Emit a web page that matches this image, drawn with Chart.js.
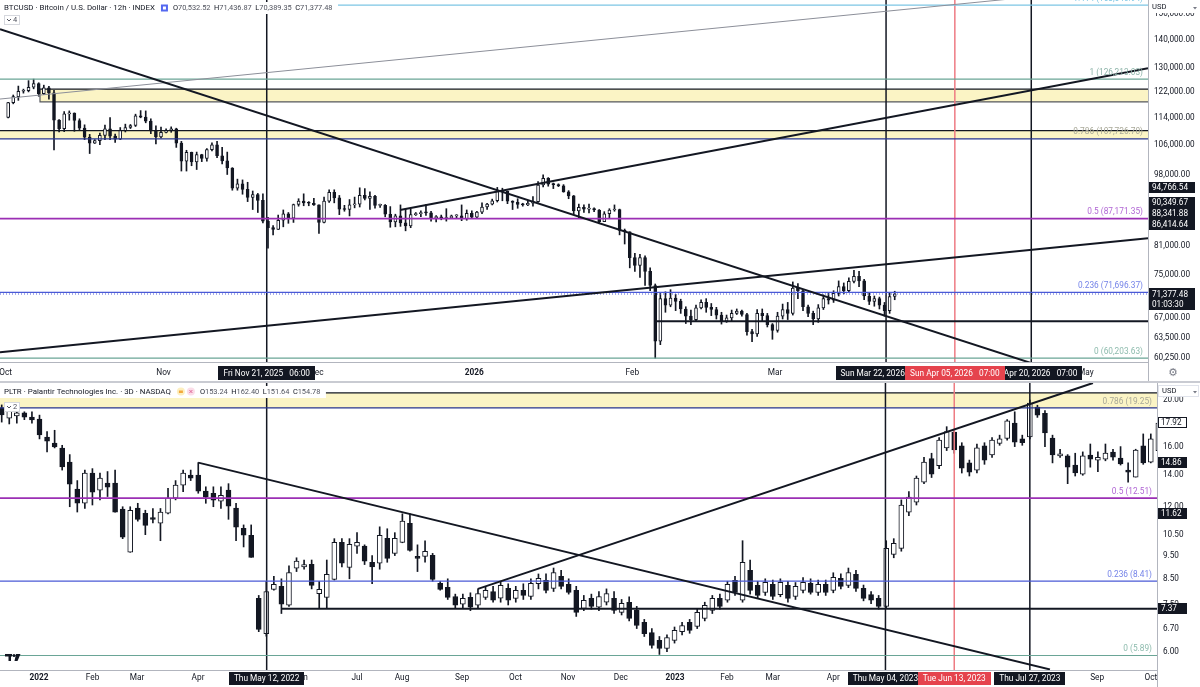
<!DOCTYPE html>
<html>
<head>
<meta charset="utf-8">
<title>BTCUSD 12h / PLTR 3D</title>
<script src="https://cdn.jsdelivr.net/npm/chart.js@4.4.1/dist/chart.umd.min.js"></script>
<style>
  html, body { margin: 0; padding: 0; background: #fff; }
  #page { position: relative; width: 1200px; height: 687px; overflow: hidden; }
  #btc { position: absolute; left: 0; top: 0; }
  #pltr { position: absolute; left: 0; top: 383px; }
  #divider { position: absolute; left: 0; top: 381px; width: 1200px; height: 2px; background: #c9cbd2; }
</style>
</head>
<body>
<div id="page">
  <canvas id="btc" width="1200" height="383"></canvas>
  <div id="divider"></div>
  <canvas id="pltr" width="1200" height="304"></canvas>
</div>
<script>
// ---------- BTCUSD, one candle per day, prices in thousands of USD. day 0 = Oct 1, 2025 ----------
const btcStartOpen = 114.0; // Sep 30 close, opens follow the previous close
const btcClose = [
  118.6,120.5,122.2,122.4,123.5,124.7,121.4,123.3,121.7,113.2, 110.7,115.1,115.3,113.1,110.8,108.2,106.5,107.2,108.7,110.6,
  108.5,107.6,110.1,111.0,111.6,114.5,114.1,112.9,110.0,108.3, 109.6,
  110.1,110.6,106.5,101.5,103.9,101.3,103.3,102.3,104.7,106.0, 103.0,101.6,99.7,94.5,95.6,94.2,92.2,92.9,91.5,86.6,
  85.1,84.7,86.8,88.3,87.3,90.5,91.3,90.9,90.8,90.4,
  86.3,91.3,93.5,92.1,89.4,89.3,90.4,90.6,92.7,92.0, 92.5,90.3,90.3,88.2,86.4,87.8,86.2,85.5,88.1,88.3,
  88.6,88.5,87.4,87.6,87.2,87.3,87.8,87.8,87.1,88.4, 87.5,
  88.7,89.9,90.6,91.4,93.8,93.7,91.3,91.0,90.5,90.4, 90.8,91.2,95.3,97.0,95.5,95.4,95.1,93.6,92.6,89.0,
  89.8,89.4,89.5,89.2,86.5,88.3,89.2,89.3,84.5,84.2, 78.6,
  77.0,78.6,75.8,73.0,63.0,70.5,69.3,70.6,70.0,68.6, 67.3,66.7,68.8,69.8,68.9,68.5,67.5,66.4,67.0,67.8,
  68.2,67.6,64.6,64.2,67.8,67.4,65.8,64.8,
  67.3,68.5,67.8,72.5,72.0,69.0,67.8,66.8,68.8,70.5, 70.2,71.5,72.8,72.0,73.8,74.8,73.9,71.0,70.0,70.5,
  69.3,68.3,70.9,71.4
];
const btcHigh = [
  118.7,121.0,123.9,122.9,125.7,126.2,125.0,124.2,123.8,122.5, 113.4,115.8,116.0,115.4,113.6,111.8,109.0,107.5,109.4,111.7,
  114.0,109.1,111.0,112.0,111.9,115.0,116.1,116.0,113.6,111.5, 111.1,
  110.6,111.2,110.8,107.0,104.5,104.0,104.0,103.4,105.0,106.6, 107.0,105.3,104.0,99.8,96.8,96.6,96.0,93.8,93.2,93.1,
  87.5,85.6,88.0,89.2,88.6,90.6,91.9,93.1,91.2,92.0,
  90.4,92.3,94.1,94.1,92.7,90.3,91.7,92.3,94.6,94.4, 93.6,92.7,90.6,90.5,90.0,88.2,90.4,89.5,89.4,88.6,
  89.0,90.5,88.9,87.9,88.0,89.5,88.0,88.1,90.4,89.2, 89.0,
  88.9,90.9,90.8,91.8,94.7,94.5,93.8,91.4,91.9,90.8, 91.3,92.4,96.2,97.9,97.2,95.8,95.6,95.4,93.9,92.7,
  90.6,90.4,90.6,89.7,89.3,88.8,89.5,90.4,89.4,84.8, 84.2,
  79.5,79.3,79.0,76.5,73.3,71.5,71.8,72.2,71.3,70.4, 69.0,68.4,69.3,70.3,70.5,69.6,68.9,68.0,67.5,68.4,
  68.6,68.4,67.8,65.0,68.5,68.6,67.8,66.0,
  68.0,69.5,69.8,73.7,73.4,72.2,69.3,68.2,69.4,71.2, 71.5,72.0,73.9,73.5,74.5,76.0,75.8,74.2,71.5,71.0,
  70.8,69.8,71.5,71.9
];
const btcLow = [
  113.9,118.2,119.3,121.6,122.0,123.0,120.6,121.1,119.7,104.6, 109.7,109.8,113.2,109.9,110.2,107.5,103.6,106.4,106.1,107.5,
  107.5,106.7,107.5,109.7,110.7,111.3,113.9,112.4,109.2,106.3, 108.0,
  109.4,109.6,105.3,98.9,98.9,100.3,99.3,101.4,101.5,104.3, 102.5,100.8,98.0,94.0,94.0,93.0,91.2,89.3,88.6,86.2,
  80.6,83.5,84.7,85.3,86.1,86.3,90.1,90.2,90.2,90.3,
  83.8,86.2,91.0,90.9,88.1,88.9,87.8,89.7,89.9,91.6, 89.3,89.6,89.8,87.6,85.2,85.3,85.4,84.4,85.1,87.9,
  87.6,87.9,86.6,86.4,86.9,86.6,87.2,87.4,86.7,86.8, 87.2,
  87.2,88.3,89.3,90.4,91.1,91.4,90.7,89.3,89.6,90.1, 90.2,90.1,91.0,94.8,95.0,94.4,94.9,93.5,91.9,88.2,
  87.4,88.6,88.5,88.8,86.0,86.5,87.4,88.9,83.5,81.5, 76.5,
  75.8,74.6,73.0,72.0,60.2,62.4,68.0,69.0,68.3,67.8, 66.0,65.8,66.5,68.6,68.0,67.4,66.8,65.9,66.2,66.5,
  67.6,67.3,64.0,62.9,63.8,66.5,65.4,63.3,
  64.5,66.8,66.7,67.5,70.5,68.3,67.2,65.8,66.2,68.5, 69.5,69.8,71.0,71.4,71.8,73.5,72.8,70.3,69.4,69.1,
  68.6,67.3,67.8,70.3
];
const btcMonthDays = [0, 31, 61, 92, 123, 151, 182, 212];
const btcMonthNames = ['Oct', 'Nov', 'Dec', '2026', 'Feb', 'Mar', 'Apr', 'May'];
const btcPriceTicks = [150, 140, 130, 122, 114, 106, 98, 90, 81, 75, 67, 63.5, 60.25];
const btcFibRatios = [0, 0.236, 0.5, 0.786, 1, 1.414];
const btcFibPrices = [60.20363, 71.69637, 87.17135, 107.7267, 126.21303, 153.54094];
const btcZones = [[6.75, 118.8, 122.9], [-1.1, 107.7267, 110.1]]; // [from day, low, high]
const btcTrend = [
  [-1.1, 144.03, 201.06, 59.49],
  [-1.1, 61.14, 224.21, 82.76],
  [77.41, 89.18, 224.21, 129.88],
  [127.85, 66.4, 224.21, 66.4]
];
const btcThinLine = [-1.1, 119.71, 214.75, 159.82];
const btcMarkDays = [51.25, 172.8, 186.3, 201.3];
const btcMarkText = ['Fri Nov 21, 2025   06:00', 'Sun Mar 22, 2026   19:00', 'Sun Apr 05, 2026   07:00', 'Mon Apr 20, 2026   07:00'];
const btcTags = [94.76654, 90.34967, 88.34188, 86.41464];
const btcLast = 71.37748;
const btcCountdown = '01:03:30';
const btcTitle = 'BTCUSD \u00b7 Bitcoin / U.S. Dollar \u00b7 12h \u00b7 INDEX';
const btcOHLC = [['O', '70,532.52'], ['H', '71,436.87'], ['L', '70,389.35'], ['C', '71,377.48']];

// ---------- PLTR, 3-day candles, x = bar number ----------
const pltrOpen = [
  19.25,18.33,18.52,18.80,18.42,18.26,16.75,16.27,15.89,14.86, 13.06,12.20,14.09,12.99,13.44,13.44,11.86,9.65,11.92,11.63,
  11.40,11.09,11.63,12.50,13.31,13.96,13.96,12.93,12.80,12.32, 12.99,11.92,10.82,10.47,7.74,6.54,8.08,8.20,7.49,8.94,
  9.00,9.11,7.92,7.78,8.48,10.12,8.98,9.94,9.94,9.20, 9.16,10.32,9.60,10.12,11.09,9.46,9.46,9.51,8.32,8.16,
  7.81,7.53,7.78,7.49,7.78,8.00,7.75,8.12,7.74,8.04, 7.81,8.30,8.44,8.12,8.60,8.28,8.04,7.38,7.74,7.42,
  7.60,7.74,7.24,7.60,7.31,6.90,6.57,6.33,6.09,6.33, 6.60,6.90,6.77,7.03,7.31,7.74,7.67,8.44,7.67,8.85,
  8.24,7.96,8.28,7.88,8.24,7.81,8.04,8.32,7.96,8.28, 8.04,8.52,8.24,8.68,8.12,7.88,7.74,7.45,9.55,9.83,
  11.69,12.27,13.50,15.10,14.60,15.90,17.15,16.05,14.80,14.30, 16.05,15.37,16.25,16.63,17.90,16.60,16.75,19.34,18.75,16.67,
  15.30,15.30,14.65,14.03,15.37,15.00,15.07,15.59,15.15,14.30, 13.83,16.05,14.86,15.70
];
const pltrHigh = [
  19.53,19.25,19.40,18.90,18.90,18.60,17.20,17.30,16.10,15.40, 13.60,14.30,14.40,14.10,14.20,14.30,12.00,12.00,12.20,11.80,
  11.90,11.90,13.10,13.60,14.30,14.30,14.82,13.20,13.20,13.20, 13.40,12.20,11.00,11.00,7.85,8.40,8.60,8.50,9.05,9.40,
  9.30,9.30,8.40,9.30,10.30,10.30,10.30,10.60,10.00,9.50, 10.90,10.80,10.60,11.60,11.60,10.00,10.20,9.60,8.40,8.50,
  7.90,7.90,7.95,8.10,8.20,8.20,8.40,8.30,8.20,8.30, 8.50,8.70,8.70,8.95,8.85,8.50,8.20,7.85,7.90,8.00,
  8.10,8.00,7.70,7.80,7.45,7.00,6.70,6.45,6.50,6.75, 6.90,7.00,7.35,7.60,7.85,7.90,8.40,8.60,10.20,9.30,
  8.40,8.50,8.45,8.50,8.40,8.35,8.55,8.50,8.45,8.45, 8.75,8.70,8.95,8.85,8.25,8.00,7.85,10.20,10.30,12.40,
  12.90,13.90,15.20,15.50,16.70,17.60,17.30,16.30,15.00,16.20, 16.30,16.70,16.90,18.20,18.90,16.90,20.00,19.50,19.00,16.90,
  15.80,15.40,15.50,15.60,16.20,15.60,16.20,15.80,16.00,14.80, 15.80,17.00,17.00,17.92
];
const pltrLow = [
  17.99,17.83,17.90,18.20,17.90,16.60,15.60,15.90,14.30,12.00, 11.70,11.90,12.10,12.40,12.60,11.69,10.30,9.65,11.20,10.50,
  11.10,10.20,11.60,12.40,12.90,13.60,12.80,12.20,12.00,11.90, 11.30,10.20,9.90,9.42,6.60,6.46,8.05,7.20,7.45,8.80,
  8.90,8.10,7.40,7.40,8.45,9.00,8.50,9.60,9.10,8.30, 8.90,9.20,9.50,10.10,9.70,8.80,9.20,8.40,8.05,7.70,
  7.40,7.40,7.30,7.40,7.70,7.60,7.60,7.50,7.60,7.70, 7.70,8.10,7.95,8.00,8.10,7.90,7.10,7.30,7.35,7.30,
  7.50,7.20,7.15,6.95,6.70,6.45,6.10,5.92,6.00,6.25, 6.50,6.55,6.70,6.95,7.20,7.35,7.60,7.85,7.60,7.90,
  7.75,7.85,7.70,7.80,7.60,7.70,7.95,7.90,7.85,7.85, 7.95,8.10,8.15,8.00,7.65,7.55,7.35,7.40,9.40,9.70,
  11.50,12.10,13.40,13.80,14.40,15.70,15.50,14.10,13.90,14.10, 14.70,15.20,16.10,16.50,16.00,16.10,16.60,18.40,16.00,14.80,
  15.20,13.40,13.90,13.95,14.50,14.20,14.95,15.00,14.65,13.50, 13.83,14.70,14.80,15.50
];
const pltrClose = [
  18.61,18.99,18.80,18.42,18.17,16.91,16.43,15.97,14.51,13.37, 12.20,14.09,12.87,13.76,13.18,11.69,10.37,11.80,11.30,10.98,
  11.30,11.69,12.50,13.31,14.09,13.76,12.93,12.56,12.38,12.68, 12.03,10.88,10.47,9.42,6.67,8.00,8.28,7.53,8.76,9.25,
  9.10,8.24,8.08,8.68,10.12,9.16,10.03,10.12,9.25,9.00, 10.47,9.37,10.32,11.20,9.74,9.37,9.69,8.48,8.08,7.78,
  7.49,7.74,7.42,7.92,8.04,7.67,8.24,7.67,8.04,7.85, 8.32,8.52,8.04,8.76,8.20,7.96,7.24,7.67,7.45,7.81,
  7.92,7.31,7.56,7.03,6.80,6.54,6.18,6.09,6.42,6.64, 6.80,6.64,7.24,7.49,7.74,7.45,8.28,7.96,9.20,8.04,
  7.85,8.36,7.81,8.36,7.74,8.20,8.36,7.96,8.28,7.96, 8.56,8.20,8.76,8.12,7.74,7.67,7.45,9.83,10.07,12.09,
  12.56,13.76,14.86,14.03,16.50,17.20,15.75,14.43,14.16,15.90, 15.00,16.50,16.60,18.10,16.35,16.30,19.70,18.60,17.08,15.37,
  15.45,14.50,14.10,15.30,15.07,15.20,15.52,15.22,14.72,14.16, 15.74,14.79,16.60,17.90
];
const pltrMonthBars = [4.93, 12.02, 17.9, 25.97, 32.8, 39.6, 47.0, 52.95, 60.9, 67.96, 74.9, 81.9,
  89.06, 95.94, 102.0, 110.0, 115.8, 123.1, 130.1, 136.7, 144.9, 152.0];
const pltrMonthNames = ['2022', 'Feb', 'Mar', 'Apr', 'May', 'Jun', 'Jul', 'Aug', 'Sep', 'Oct', 'Nov', 'Dec',
  '2023', 'Feb', 'Mar', 'Apr', 'May', 'Jun', 'Jul', 'Aug', 'Sep', 'Oct'];
const pltrPriceTicks = [20, 16, 14, 12, 10.5, 9.5, 8.5, 7.5, 6.7, 6];
const pltrFibRatios = [0, 0.236, 0.5, 0.786];
const pltrFibPrices = [5.89, 8.41, 12.51, 19.25];
const pltrZone = [-0.225, 19.25, 20.68];
const pltrTrend = [
  [26.0, 14.82, 138.66, 5.51],
  [63.0, 8.10, 144.35, 21.69],
  [37.0, 7.37, 152.82, 7.37]
];
const pltrMarkBars = [35.05, 116.9, 126.0, 136.0];
const pltrMarkText = ['Thu May 12, 2022', 'Thu May 04, 2023', 'Tue Jun 13, 2023', 'Thu Jul 27, 2023'];
const pltrTags = [17.92, 14.86, 11.62, 7.37];
const pltrTitle = 'PLTR \u00b7 Palantir Technologies Inc. \u00b7 3D \u00b7 NASDAQ';
const pltrOHLC = [['O', '153.24'], ['H', '162.40'], ['L', '151.64'], ['C', '154.78']];

// ---------- view ranges ----------
const BTC_X = [-1.1, 224.21];
const BTC_Y = [59.598, 155.675];
const PLTR_X = [-0.225, 152.82];
const PLTR_Y = [5.495, 21.69];

const FONT = 'Roboto, "Liberation Sans", Arial, sans-serif';
const INK = '#131722';
const RED = '#e5434d';
const font = (size, weight) => `${weight || 'normal'} ${size}px ${FONT}`;
const money = (v) => v.toLocaleString('en-US', { minimumFractionDigits: 2, maximumFractionDigits: 2 });
Chart.defaults.font.family = FONT;

function candleDatasets(xs, open, high, low, close, bodyWidth) {
  const up = close.map((c, i) => c >= open[i]);
  return [
    {
      type: 'bar', order: 2, grouped: false, clip: 0,
      data: xs.map((x, i) => ({ x, y: [Math.min(open[i], close[i]), Math.max(open[i], close[i])] })),
      backgroundColor: up.map((u) => (u ? '#ffffff' : INK)),
      borderColor: INK, borderWidth: 1, borderSkipped: false,
      barThickness: bodyWidth, minBarLength: 1
    },
    {
      type: 'bar', order: 3, grouped: false, clip: 0,
      data: xs.map((x, i) => ({ x, y: [low[i], high[i]] })),
      backgroundColor: INK, borderWidth: 0, barThickness: 1
    }
  ];
}

function segment(x0, y0, x1, y1, color, width, dash) {
  return {
    type: 'line', order: 1, clip: 0,
    data: [{ x: x0, y: y0 }, { x: x1, y: y1 }],
    borderColor: color, borderWidth: width, borderDash: dash || [],
    pointRadius: 0, pointHoverRadius: 0, fill: false, tension: 0
  };
}

function dateBoxes(ctx, xScale, top, h, marks, texts, redIdx) {
  ctx.font = font(8.3);
  ctx.textAlign = 'center';
  ctx.textBaseline = 'middle';
  const order = marks.map((_, i) => i).filter((i) => i !== redIdx).concat([redIdx]);
  for (const i of order) {
    const cx = xScale.getPixelForValue(marks[i]);
    const w = Math.round(ctx.measureText(texts[i]).width + 10);
    ctx.fillStyle = i === redIdx ? RED : INK;
    ctx.fillRect(Math.round(cx - w / 2), top, w, h);
    ctx.fillStyle = '#fff';
    ctx.fillText(texts[i], cx, top + h / 2 + 0.5);
  }
}

function priceTag(ctx, x, cy, w, text, dark) {
  ctx.fillStyle = dark ? INK : '#fff';
  ctx.fillRect(x, Math.round(cy - 5.5), w, 11);
  if (!dark) {
    ctx.strokeStyle = INK;
    ctx.lineWidth = 1;
    ctx.strokeRect(x + 0.5, Math.round(cy - 5.5) + 0.5, w - 1, 10);
  }
  ctx.fillStyle = dark ? '#fff' : INK;
  ctx.font = font(8.2);
  ctx.textAlign = 'left';
  ctx.textBaseline = 'middle';
  ctx.fillText(text, x + 3, cy + 0.5);
}

function header(ctx, x, cy, title, ohlc, drawIcons) {
  ctx.textBaseline = 'middle';
  ctx.textAlign = 'left';
  ctx.font = font(7.9);
  const titleW = ctx.measureText(title).width;
  let px = drawIcons(x + titleW + 6);
  ctx.font = font(7.4);
  let end = px;
  ohlc.forEach(([k, v]) => { end += ctx.measureText(k + v).width + 3.5; });
  ctx.fillStyle = '#fff';
  ctx.fillRect(0, cy - 6, end + 2, 12);
  ctx.font = font(7.9);
  ctx.fillStyle = INK;
  ctx.fillText(title, x, cy);
  drawIcons(x + titleW + 6, true);
  ctx.font = font(7.4);
  ohlc.forEach(([k, v]) => {
    ctx.fillStyle = INK;
    ctx.fillText(k, px, cy);
    px += ctx.measureText(k).width;
    ctx.fillStyle = '#50535e';
    ctx.fillText(v, px, cy);
    px += ctx.measureText(v).width + 3.5;
  });
}

function toggleBox(ctx, x, y, n) {
  ctx.fillStyle = '#fff';
  ctx.fillRect(x, y, 16, 10);
  ctx.strokeStyle = '#d6d8de';
  ctx.lineWidth = 1;
  ctx.strokeRect(x + 0.5, y + 0.5, 15, 9);
  ctx.strokeStyle = '#50535e';
  ctx.beginPath();
  ctx.moveTo(x + 3, y + 4); ctx.lineTo(x + 5, y + 6); ctx.lineTo(x + 7, y + 4);
  ctx.stroke();
  ctx.fillStyle = '#50535e';
  ctx.font = font(7.5);
  ctx.textAlign = 'left';
  ctx.textBaseline = 'middle';
  ctx.fillText(n, x + 9, y + 5.5);
}

function axisFrame(ctx, a, w, h) {
  ctx.strokeStyle = '#b2b5be';
  ctx.lineWidth = 1;
  ctx.beginPath();
  ctx.moveTo(0, a.bottom + 0.5); ctx.lineTo(a.right, a.bottom + 0.5);
  ctx.moveTo(a.right + 0.5, 0); ctx.lineTo(a.right + 0.5, h);
  ctx.stroke();
}

function xScaleOpts(range, pos, names, height, pad) {
  return {
    type: 'linear', min: range[0], max: range[1], offset: false, bounds: 'data',
    grid: { display: false, drawTicks: false }, border: { display: false },
    afterBuildTicks: (ax) => { ax.ticks = pos.map((v) => ({ value: v })); },
    afterFit: (ax) => { ax.height = height; ax.paddingLeft = 0; ax.paddingRight = 0; },
    ticks: {
      autoSkip: false, maxRotation: 0, padding: pad, color: INK,
      font: (c) => ({ family: FONT, size: 8.3, weight: /^\d{4}$/.test(c.tick && c.tick.label) ? 'bold' : 'normal' }),
      callback: (v) => names[pos.indexOf(v)]
    }
  };
}

function yScaleOpts(range, ticks, width, fmt) {
  return {
    type: 'logarithmic', position: 'right', min: range[0], max: range[1], bounds: 'data',
    grid: { display: false, drawTicks: false }, border: { display: false },
    afterBuildTicks: (ax) => { ax.ticks = ticks.map((v) => ({ value: v })); },
    afterFit: (ax) => { ax.width = width; ax.paddingTop = 0; ax.paddingBottom = 0; },
    ticks: { padding: 6, color: INK, font: { size: 8.2 }, callback: fmt }
  };
}

const baseOptions = {
  responsive: false, animation: false, events: [],
  layout: { padding: 0 },
  plugins: { legend: { display: false }, tooltip: { enabled: false } }
};

// ---------- BTC chart ----------
const btcOpen = [btcStartOpen, ...btcClose.slice(0, -1)];
const btcX = btcClose.map((_, i) => i + 0.5);
const btcFibColors = ['#6aa596', '#4a5ad6', '#9b2fb4', '#27348f', '#6aa596', '#7cc6e4'];
const btcFibText = ['#8dbbad', '#7483e8', '#b066d4', '#a8a898', '#8db4a9', '#7cc6e4'];

const btcDecor = {
  id: 'btcDecor',
  beforeDatasetsDraw(chart) {
    const { ctx, chartArea: a, scales: { x, y } } = chart;
    ctx.save();
    btcZones.forEach(([from, lo, hi], i) => {
      const x0 = Math.max(a.left, x.getPixelForValue(from));
      const yt = y.getPixelForValue(hi), yb = y.getPixelForValue(lo);
      ctx.fillStyle = '#fbf4c5';
      ctx.fillRect(x0, yt, a.right - x0, yb - yt);
      ctx.strokeStyle = INK;
      ctx.lineWidth = 1.2;
      ctx.beginPath();
      ctx.moveTo(x0, yt); ctx.lineTo(a.right, yt);
      ctx.stroke();
      if (i === 0) {
        ctx.strokeStyle = '#55585f';
        ctx.beginPath();
        ctx.moveTo(a.right, yb); ctx.lineTo(x0, yb); ctx.lineTo(x0, yt);
        ctx.stroke();
      }
    });
    ctx.restore();
  },
  afterDraw(chart) {
    const { ctx, chartArea: a, scales: { x, y } } = chart;
    ctx.save();
    axisFrame(ctx, a, chart.width, chart.height);

    ctx.font = font(8.3);
    ctx.textAlign = 'right';
    ctx.textBaseline = 'middle';
    btcFibRatios.forEach((r, i) => {
      ctx.fillStyle = btcFibText[i];
      ctx.fillText(`${r} (${money(btcFibPrices[i] * 1000)})`, a.right - 5, y.getPixelForValue(btcFibPrices[i]) - 6.5);
    });

    header(ctx, 4, 8, btcTitle, btcOHLC, (px, draw) => {
      if (draw) {
        ctx.fillStyle = '#5468f0';
        ctx.fillRect(px, 4.5, 7, 7);
        ctx.fillStyle = '#fff';
        ctx.fillRect(px + 2, 6.5, 3, 3);
      }
      return px + 12;
    });
    toggleBox(ctx, 4, 15, '4');

    // right scale tags, pushed apart where they overlap
    const ys = btcTags.map((v) => y.getPixelForValue(v));
    for (let it = 0; it < 30; it++) {
      for (let k = 1; k < ys.length; k++) {
        const gap = ys[k] - ys[k - 1];
        if (gap < 11) { ys[k - 1] -= (11 - gap) / 2; ys[k] += (11 - gap) / 2; }
      }
    }
    btcTags.forEach((v, k) => priceTag(ctx, a.right + 1, ys[k], 46, money(v * 1000), true));
    const ly = y.getPixelForValue(btcLast);
    ctx.fillStyle = INK;
    ctx.fillRect(a.right + 1, Math.round(ly - 5.5), 46, 22);
    ctx.fillStyle = '#fff';
    ctx.font = font(8.2);
    ctx.textAlign = 'left';
    ctx.fillText(money(btcLast * 1000), a.right + 4, ly + 0.5);
    ctx.fillText(btcCountdown, a.right + 4, ly + 11);

    ctx.fillStyle = '#fff';
    ctx.fillRect(a.right + 1, 0, chart.width - a.right - 1, 13);
    ctx.fillStyle = INK;
    ctx.font = font(7.6);
    ctx.fillText('USD', a.right + 4, 7.5);
    ctx.fillStyle = '#787b86';
    ctx.beginPath();
    ctx.moveTo(1193, 7); ctx.lineTo(1197, 7); ctx.lineTo(1195, 9.5); ctx.fill();

    dateBoxes(ctx, x, a.bottom + 4, 14, btcMarkDays, btcMarkText, 2);

    ctx.fillStyle = '#787b86';
    ctx.font = '11px "DejaVu Sans"';
    ctx.textAlign = 'center';
    ctx.fillText('\u2699', 1173, a.bottom + 11);
    ctx.restore();
  }
};

new Chart(document.getElementById('btc'), {
  type: 'bar',
  data: {
    datasets: [
      ...candleDatasets(btcX, btcOpen, btcHigh, btcLow, btcClose, 3),
      ...btcTrend.map((t) => segment(t[0], t[1], t[2], t[3], INK, 2)),
      segment(btcThinLine[0], btcThinLine[1], btcThinLine[2], btcThinLine[3], '#8c8f99', 1),
      ...btcFibPrices.map((p, i) => segment(BTC_X[0], p, BTC_X[1], p, btcFibColors[i], i === 2 ? 1.8 : 1.2)),
      segment(BTC_X[0], btcLast, BTC_X[1], btcLast, '#4a5ad6', 1, [1, 2]),
      ...btcMarkDays.map((d, i) => segment(d, BTC_Y[0], d, BTC_Y[1], i === 2 ? '#ee7b83' : INK, 1.5))
    ]
  },
  options: {
    ...baseOptions,
    scales: {
      x: xScaleOpts(BTC_X, btcMonthDays, btcMonthNames, 21, 6),
      y: yScaleOpts(BTC_Y, btcPriceTicks, 52, (v) => money(v * 1000))
    }
  },
  plugins: [btcDecor]
});

// ---------- PLTR chart ----------
const pltrX = pltrClose.map((_, i) => i);
const pltrFibColors = ['#6aa596', '#4a5ad6', '#9b2fb4', '#27348f'];
const pltrFibText = ['#8dbbad', '#7483e8', '#b066d4', '#a8a898'];

const pltrDecor = {
  id: 'pltrDecor',
  beforeDatasetsDraw(chart) {
    const { ctx, chartArea: a, scales: { x, y } } = chart;
    ctx.save();
    const x0 = Math.max(a.left, x.getPixelForValue(pltrZone[0]));
    const yt = y.getPixelForValue(pltrZone[2]), yb = y.getPixelForValue(pltrZone[1]);
    ctx.fillStyle = '#fbf4c5';
    ctx.fillRect(x0, yt, a.right - x0, yb - yt);
    ctx.strokeStyle = INK;
    ctx.lineWidth = 1.2;
    ctx.beginPath();
    ctx.moveTo(x0, yt); ctx.lineTo(a.right, yt);
    ctx.stroke();
    ctx.restore();
  },
  afterDraw(chart) {
    const { ctx, chartArea: a, scales: { x, y } } = chart;
    ctx.save();
    axisFrame(ctx, a, chart.width, chart.height);

    ctx.font = font(8.3);
    ctx.textAlign = 'right';
    ctx.textBaseline = 'middle';
    pltrFibRatios.forEach((r, i) => {
      ctx.fillStyle = pltrFibText[i];
      ctx.fillText(`${r} (${pltrFibPrices[i].toFixed(2)})`, a.right - 5, y.getPixelForValue(pltrFibPrices[i]) - 6.5);
    });

    header(ctx, 4, 9, pltrTitle, pltrOHLC, (px, draw) => {
      if (draw) {
        ctx.fillStyle = '#fdefc0';
        ctx.beginPath(); ctx.arc(px + 4, 8.5, 4, 0, Math.PI * 2); ctx.fill();
        ctx.fillStyle = '#f2a93b';
        ctx.fillRect(px + 2, 7.5, 4, 2.5);
        ctx.fillStyle = '#fbdde8';
        ctx.beginPath(); ctx.arc(px + 14, 8.5, 4, 0, Math.PI * 2); ctx.fill();
        ctx.strokeStyle = '#e06a9a';
        ctx.lineWidth = 1;
        ctx.beginPath();
        ctx.moveTo(px + 12.5, 7); ctx.lineTo(px + 15.5, 10); ctx.moveTo(px + 15.5, 7); ctx.lineTo(px + 12.5, 10);
        ctx.stroke();
      }
      return px + 23;
    });
    toggleBox(ctx, 4, 19, '2');

    pltrTags.forEach((v, k) => priceTag(ctx, a.right + 1, y.getPixelForValue(v), 29, v.toFixed(2), k !== 0));

    ctx.fillStyle = '#fff';
    ctx.fillRect(a.right + 1, 0, chart.width - a.right - 1, 14);
    ctx.strokeStyle = '#e0e3eb';
    ctx.strokeRect(a.right + 1.5, 2.5, chart.width - a.right - 3, 11);
    ctx.fillStyle = INK;
    ctx.font = font(7.6);
    ctx.textAlign = 'left';
    ctx.fillText('USD', a.right + 5, 8.5);
    ctx.fillStyle = '#787b86';
    ctx.beginPath();
    ctx.moveTo(1193, 8); ctx.lineTo(1197, 8); ctx.lineTo(1195, 10.5); ctx.fill();

    dateBoxes(ctx, x, a.bottom + 2, 13, pltrMarkBars, pltrMarkText, 2);

    // TradingView mark
    ctx.fillStyle = INK;
    const ty = y.getPixelForValue(5.89) - 0.5;
    ctx.fillRect(5, ty - 1, 7, 2.5);
    ctx.fillRect(8.5, ty - 1, 2.5, 7);
    ctx.beginPath(); ctx.arc(14, ty + 0.5, 1.5, 0, Math.PI * 2); ctx.fill();
    ctx.beginPath();
    ctx.moveTo(16, ty - 1); ctx.lineTo(20.5, ty - 1); ctx.lineTo(17.5, ty + 6); ctx.lineTo(14.5, ty + 6); ctx.closePath();
    ctx.fill();
    ctx.restore();
  }
};

new Chart(document.getElementById('pltr'), {
  type: 'bar',
  data: {
    datasets: [
      ...candleDatasets(pltrX, pltrOpen, pltrHigh, pltrLow, pltrClose, 5),
      ...pltrTrend.map((t) => segment(t[0], t[1], t[2], t[3], INK, 2)),
      ...pltrFibPrices.map((p, i) => segment(PLTR_X[0], p, PLTR_X[1], p, pltrFibColors[i], i === 2 ? 1.8 : 1.2)),
      ...pltrMarkBars.map((b, i) => segment(b, PLTR_Y[0], b, PLTR_Y[1], i === 2 ? '#ee7b83' : INK, 1.5))
    ]
  },
  options: {
    ...baseOptions,
    scales: {
      x: xScaleOpts(PLTR_X, pltrMonthBars, pltrMonthNames, 17, 3),
      y: yScaleOpts(PLTR_Y, pltrPriceTicks, 43, (v) => v.toFixed(2))
    }
  },
  plugins: [pltrDecor]
});
</script>
</body>
</html>
